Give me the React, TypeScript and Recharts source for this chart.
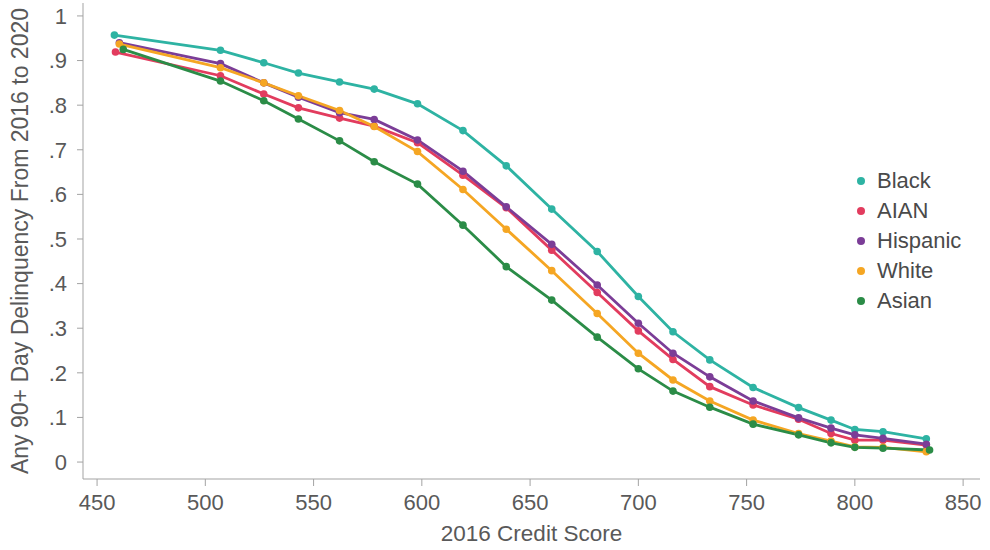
import { LineChart, Line, XAxis, YAxis, Legend } from "recharts";

// credit score bins and delinquency shares per group
const blackScores = [458, 507, 527, 543, 562, 578, 598, 619, 639, 660, 681, 700, 716, 733, 753, 774, 789, 800, 813, 833];
const blackValues = [0.957, 0.923, 0.895, 0.872, 0.852, 0.836, 0.803, 0.743, 0.664, 0.567, 0.472, 0.371, 0.292, 0.229, 0.167, 0.122, 0.094, 0.073, 0.068, 0.052];

const aianScores = [458.5, 507, 527, 543, 562, 578, 598, 619, 639, 660, 681, 700, 716, 733, 753, 774, 789, 800, 813, 833];
const aianValues = [0.919, 0.866, 0.825, 0.794, 0.771, 0.753, 0.716, 0.643, 0.57, 0.475, 0.38, 0.294, 0.23, 0.169, 0.128, 0.096, 0.064, 0.049, 0.049, 0.038];

const hispanicScores = [460.3, 507, 527, 543, 562, 578, 598, 619, 639, 660, 681, 700, 716, 733, 753, 774, 789, 800, 813, 833];
const hispanicValues = [0.94, 0.893, 0.85, 0.818, 0.783, 0.768, 0.722, 0.652, 0.572, 0.488, 0.397, 0.311, 0.244, 0.191, 0.137, 0.099, 0.076, 0.061, 0.053, 0.04];

const whiteScores = [460.3, 507, 527, 543, 562, 578, 598, 619, 639, 660, 681, 700, 716, 733, 753, 774, 789, 800, 813, 833];
const whiteValues = [0.937, 0.884, 0.85, 0.821, 0.788, 0.752, 0.696, 0.611, 0.522, 0.429, 0.333, 0.244, 0.184, 0.137, 0.094, 0.064, 0.047, 0.034, 0.033, 0.023];

const asianScores = [462.1, 507, 527, 543, 562, 578, 598, 619, 639, 660, 681, 700, 716, 733, 753, 774, 789, 800, 813, 834.5];
const asianValues = [0.925, 0.854, 0.81, 0.769, 0.72, 0.673, 0.623, 0.531, 0.438, 0.363, 0.28, 0.209, 0.159, 0.123, 0.085, 0.061, 0.043, 0.033, 0.031, 0.027];

const xTicks = [450, 500, 550, 600, 650, 700, 750, 800, 850];
const yTicks = [0, 0.1, 0.2, 0.3, 0.4, 0.5, 0.6, 0.7, 0.8, 0.9, 1];

const toPoints = (scores: number[], values: number[]) =>
  scores.map((score, i) => ({ score, value: values[i] }));

const series = [
  { name: "Black", color: "#2eb3a3", data: toPoints(blackScores, blackValues) },
  { name: "AIAN", color: "#e23c5e", data: toPoints(aianScores, aianValues) },
  { name: "Hispanic", color: "#7b3d97", data: toPoints(hispanicScores, hispanicValues) },
  { name: "White", color: "#f5a623", data: toPoints(whiteScores, whiteValues) },
  { name: "Asian", color: "#2b8c47", data: toPoints(asianScores, asianValues) },
];

const FONT = "'Liberation Sans', Arial, Helvetica, sans-serif";
const AXIS = "#a3a3a3";
const TEXT = "#595959";

const fmtY = (v: number) => (v === 0 ? "0" : v === 1 ? "1" : v.toFixed(1).replace(/^0/, ""));

function LegendBox() {
  return (
    <div style={{ fontFamily: FONT, fontSize: 22, color: "#4a4a4a" }}>
      {series.map((s) => (
        <div key={s.name} style={{ height: 30, display: "flex", alignItems: "center" }}>
          <span
            style={{
              width: 8,
              height: 8,
              borderRadius: 4,
              background: s.color,
              display: "inline-block",
              marginRight: 12,
            }}
          />
          {s.name}
        </div>
      ))}
    </div>
  );
}

export default function App() {
  return (
    <div style={{ position: "absolute", left: 0, top: 0, background: "#fff" }}>
      <LineChart width={990} height={550} margin={{ top: 3, right: 10, left: 0, bottom: 0 }}>
        <XAxis
          dataKey="score"
          type="number"
          domain={[443.5, 857.8]}
          ticks={xTicks}
          interval={0}
          allowDataOverflow
          height={71}
          stroke={AXIS}
          tickSize={7}
          tickMargin={8}
          tick={{ fill: TEXT, fontSize: 22, fontFamily: FONT }}
          label={{
            value: "2016 Credit Score",
            position: "insideBottom",
            offset: 9,
            fill: TEXT,
            fontSize: 22.5,
            fontFamily: FONT,
          }}
        />
        <YAxis
          type="number"
          domain={[-0.038, 1.029]}
          ticks={yTicks}
          interval={0}
          allowDataOverflow
          width={83}
          stroke={AXIS}
          tickSize={6}
          tickMargin={10}
          tickFormatter={fmtY}
          tick={{ fill: TEXT, fontSize: 22, fontFamily: FONT }}
          label={{
            value: "Any 90+ Day Delinquency From 2016 to 2020",
            angle: -90,
            position: "insideLeft",
            offset: 20,
            fill: TEXT,
            fontSize: 23,
            fontFamily: FONT,
            style: { textAnchor: "middle" },
          }}
        />
        <Legend
          layout="horizontal"
          verticalAlign="middle"
          align="center"
          content={() => <LegendBox />}
          wrapperStyle={{ position: "absolute", left: 857, top: 166, width: 130 }}
        />
        {series.map((s) => (
          <Line
            key={s.name}
            name={s.name}
            data={s.data}
            dataKey="value"
            type="linear"
            stroke={s.color}
            strokeWidth={2.8}
            dot={{ r: 3.8, fill: s.color, stroke: "none" }}
            activeDot={false}
            isAnimationActive={false}
          />
        ))}
      </LineChart>
    </div>
  );
}
